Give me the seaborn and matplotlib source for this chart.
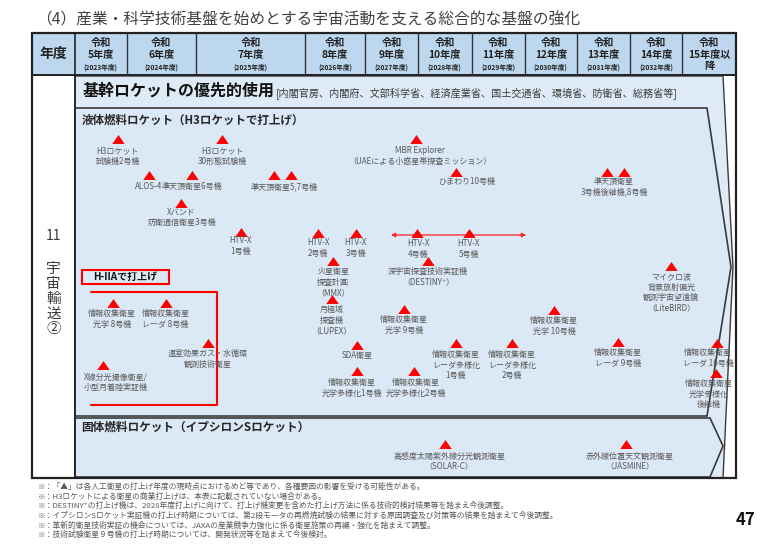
import numpy as np
import matplotlib
matplotlib.use("Agg")
import matplotlib.pyplot as plt
from matplotlib.patches import Polygon, Rectangle
import seaborn as sns

sns.set_theme(style="white")
plt.rcParams['font.family'] = ['Noto Sans CJK JP', 'DejaVu Sans']

# ---------------- data ----------------
title = "（4）産業・科学技術基盤を始めとする宇宙活動を支える総合的な基盤の強化"
fiscal_years = [2023, 2024, 2025, 2026, 2027, 2028, 2029, 2030, 2031, 2032, 2033]
header_top = ["令和"] * 11
header_mid = ["5年度", "6年度", "7年度", "8年度", "9年度", "10年度", "11年度",
              "12年度", "13年度", "14年度", "15年度以"]
header_bot = ["(2023年度)", "(2024年度)", "(2025年度)", "(2026年度)", "(2027年度)",
              "(2028年度)", "(2029年度)", "(2030年度)", "(2031年度)", "(2032年度)", "降"]

# launch triangles: fiscal-year position and row
tri_year = [2023.83, 2025.24, 2027.96,
            2024.32, 2024.94, 2025.72, 2025.87,
            2024.78,
            2025.41, 2026.22, 2026.85, 2027.99, 2028.95,
            2026.47, 2028.19,
            2026.45, 2027.74,
            2026.87, 2026.87, 2027.92,
            2028.71, 2029.76,
            2028.71, 2031.57, 2031.89,
            2032.79, 2030.56, 2031.77, 2033.65, 2033.63,
            2023.74, 2024.57, 2025.11, 2023.54,
            2028.50, 2031.92]
tri_row = [139, 139, 139,
           175, 175, 175, 175,
           203,
           232, 233, 233, 233, 233,
           261, 261,
           299, 309,
           345, 371, 371,
           343, 343,
           172, 172, 172,
           266, 310, 342, 343, 373,
           303, 303, 343, 365,
           444, 444]

label_text = ["H3ロケット\n試験機2号機", "H3ロケット\n30形態試験機",
              "MBR Explorer\n（UAEによる小惑星帯探査ミッション）",
              "ALOS-4", "準天頂衛星6号機", "準天頂衛星5,7号機",
              "Xバンド\n防衛通信衛星3号機",
              "HTV-X\n1号機", "HTV-X\n2号機", "HTV-X\n3号機", "HTV-X\n4号機", "HTV-X\n5号機",
              "火星衛星\n探査計画\n（MMX）", "深宇宙探査技術実証機\n（DESTINY⁺）",
              "月極域\n探査機\n（LUPEX）", "情報収集衛星\n光学 9号機",
              "SDA衛星", "情報収集衛星\n光学多様化1号機", "情報収集衛星\n光学多様化2号機",
              "情報収集衛星\nレーダ多様化\n1号機", "情報収集衛星\nレーダ多様化\n2号機",
              "ひまわり10号機", "準天頂衛星\n3号機後継機,8号機",
              "マイクロ波\n背景放射偏光\n観測宇宙望遠鏡\n（LiteBIRD）",
              "情報収集衛星\n光学 10号機", "情報収集衛星\nレーダ 9号機",
              "情報収集衛星\nレーダ 10号機", "情報収集衛星\n光学多様化\n後継機",
              "情報収集衛星\n光学 8号機", "情報収集衛星\nレーダ 8号機",
              "温室効果ガス・水循環\n観測技術衛星", "X線分光撮像衛星/\n小型月着陸実証機",
              "高感度太陽紫外線分光観測衛星\n（SOLAR-C）", "赤外線位置天文観測衛星\n（JASMINE）"]
label_year = [2023.83, 2025.24, 2028.04,
              2024.32, 2024.94, 2025.81,
              2024.79,
              2025.41, 2026.22, 2026.85, 2028.00, 2028.95,
              2026.47, 2028.19,
              2026.45, 2027.74,
              2026.87, 2026.78, 2027.96,
              2028.71, 2029.76,
              2028.90, 2031.70,
              2032.79,
              2030.56, 2031.77,
              2033.48, 2033.50,
              2023.72, 2024.56,
              2025.11, 2023.80,
              2028.58, 2032.00]
label_row = [151, 151, 151,
             187, 187, 187,
             212,
             241, 243, 243, 244, 244,
             272, 272,
             310, 320,
             356, 383, 383,
             355, 355,
             182, 182,
             277,
             321, 353,
             353, 384,
             314, 314,
             354, 377,
             456, 456]

htv_arrow_years = [2027.49, 2030.03]
htv_arrow_row = 235

footnotes = [
    "※：「▲」は各人工衛星の打上げ年度の現時点におけるめど等であり、各種要因の影響を受ける可能性がある。",
    "※：H3ロケットによる衛星の商業打上げは、本表に記載されていない場合がある。",
    "※：DESTINY⁺の打上げ機は、2028年度打上げに向けて、打上げ機変更を含めた打上げ方法に係る技術的検討結果等を踏まえ今後調整。",
    "※：イプシロンSロケット実証機の打上げ時期については、第2段モータの再燃焼試験の結果に対する原因調査及び対策等の結果を踏まえて今後調整。",
    "※：革新的衛星技術実証の機会については、JAXAの産業競争力強化に係る衛星施策の再編・強化を踏まえて調整。",
    "※：技術試験衛星９号機の打上げ時期については、開発状況等を踏まえて今後検討。",
]

# ---------------- layout ----------------
W, H = 768, 545
fig = plt.figure(figsize=(7.68, 5.45), dpi=100)
fig.patch.set_facecolor('white')

bg = fig.add_axes([0, 0, 1, 1])
bg.set_xlim(0, W)
bg.set_ylim(H, 0)
bg.axis('off')

# column edges in pixels vs fiscal years (non-uniform table columns)
PX = [0, 32, 75, 126.5, 196, 305, 365, 418, 471.5, 524.5, 577, 630, 682, 736, 768]
YE = [2021 + (1 - 32 / 43), 2022] + list(range(2023, 2035)) + [2034 + 32 / 54]


def fwd(v):
    return np.interp(v, YE, PX)


def inv(v):
    return np.interp(v, PX, YE)


ax = fig.add_axes([0, 0, 1, 1], facecolor='none')
ax.set_xscale('function', functions=(fwd, inv))
ax.set_xlim(YE[0], YE[-1])
ax.set_ylim(H, 0)
ax.axis('off')

dark = '#3a3a3a'
gray = '#595959'

bg.text(36, 20, title, fontsize=11.3, color='#404040', va='center', ha='left')

# header row
bg.add_patch(Rectangle((32, 33), 704, 42, facecolor='#bdd7ee', edgecolor='none', zorder=1))
# body
bg.add_patch(Polygon([(75, 76), (723, 76), (733, 267), (723, 478), (75, 478)],
                     closed=True, facecolor='#deebf7', edgecolor=dark, lw=1, zorder=2))
bg.add_patch(Polygon([(75, 108), (707, 108), (731, 267), (707, 416), (75, 416)],
                     closed=True, facecolor='#dbe8f5', edgecolor=dark, lw=1.2, zorder=3))
bg.add_patch(Polygon([(75, 418), (710, 418), (723, 446), (710, 477), (75, 477)],
                     closed=True, facecolor='#dbe8f5', edgecolor=dark, lw=1.2, zorder=3))
# table frame
bg.add_patch(Rectangle((32, 33), 704, 445, facecolor='none', edgecolor='#222222', lw=1.6, zorder=5))
bg.plot([32, 736], [75, 75], color='#222222', lw=1.4, zorder=5)
bg.plot([75, 75], [33, 478], color='#222222', lw=1.2, zorder=5)

# header separators & labels via the fiscal-year scale
ax.vlines(fiscal_years[1:], 33, 75, color='#333333', lw=1.0)
for fy, t, m, b in zip(fiscal_years, header_top, header_mid, header_bot):
    cx = fy + 0.5
    ax.text(cx, 43, t, fontsize=7.3, fontweight='bold', color='#222222', ha='center', va='center')
    ax.text(cx, 55, m, fontsize=7.3, fontweight='bold', color='#222222', ha='center', va='center')
    if b.startswith('('):
        ax.text(cx, 67, b, fontsize=4.8, fontweight='bold', color='#222222', ha='center', va='center')
    else:
        ax.text(cx, 66, b, fontsize=7.3, fontweight='bold', color='#222222', ha='center', va='center')
bg.text(53.5, 54, "年度", fontsize=10, fontweight='bold', color='#222222', ha='center', va='center')

# left column
bg.text(53.5, 236, "11", fontsize=10, color=dark, ha='center', va='center')
bg.text(53.5, 299, "宇\n宙\n輸\n送\n②", fontsize=10.5, color=dark, ha='center', va='center',
        linespacing=1.08)

# section titles
bg.text(83, 91, "基幹ロケットの優先的使用", fontsize=11.5, fontweight='bold', color='#111111',
        ha='left', va='center', zorder=6)
bg.text(276, 93, "[内閣官房、内閣府、文部科学省、経済産業省、国土交通省、環境省、防衛省、総務省等]",
        fontsize=7.3, color=dark, ha='left', va='center', zorder=6)
bg.text(82, 120, "液体燃料ロケット（H3ロケットで打上げ）", fontsize=8.3, fontweight='bold',
        color='#262626', ha='left', va='center', zorder=6)
bg.text(81, 427, "固体燃料ロケット（イプシロンSロケット）", fontsize=8.4, fontweight='bold',
        color='#262626', ha='left', va='center', zorder=6)

# H-IIA box and bracket
bg.add_patch(Rectangle((82, 270), 87, 14, facecolor='none', edgecolor='#ff0000', lw=1.5, zorder=6))
bg.text(125.5, 277, "H-IIAで打上げ", fontsize=7.2, fontweight='bold', color='#111111',
        ha='center', va='center', zorder=6)
bg.plot([91, 217, 217, 91], [292, 292, 405, 405], color='#ff0000', lw=1.5, zorder=6)

# HTV-X arrow
ax.annotate('', xy=(htv_arrow_years[1], htv_arrow_row), xytext=(htv_arrow_years[0], htv_arrow_row),
            arrowprops=dict(arrowstyle='<|-|>', color='#ff2020', lw=0.9, mutation_scale=6,
                            shrinkA=0, shrinkB=0))

# triangles
tri_marker = [(-1, -0.72), (1, -0.72), (0, 0.72)]
sns.scatterplot(x=tri_year, y=tri_row, ax=ax, marker=tri_marker, s=80, color='#ff0000',
                linewidth=0, legend=False, zorder=8)

# labels
for txt, lx, ly in zip(label_text, label_year, label_row):
    ax.text(lx, ly - 4.6, txt, fontsize=5.8, color=gray, ha='center', va='top',
            linespacing=1.18, multialignment='left' if txt.startswith('X線') else 'center', zorder=9)

# footnotes
for i, fn in enumerate(footnotes):
    bg.text(38, 487 + i * 9.6, fn, fontsize=5.6, color=gray, ha='left', va='center')

bg.text(745, 520, "47", fontsize=12, fontweight='bold', color='#111111', ha='center', va='center')

fig.savefig('out.png', dpi=100)
